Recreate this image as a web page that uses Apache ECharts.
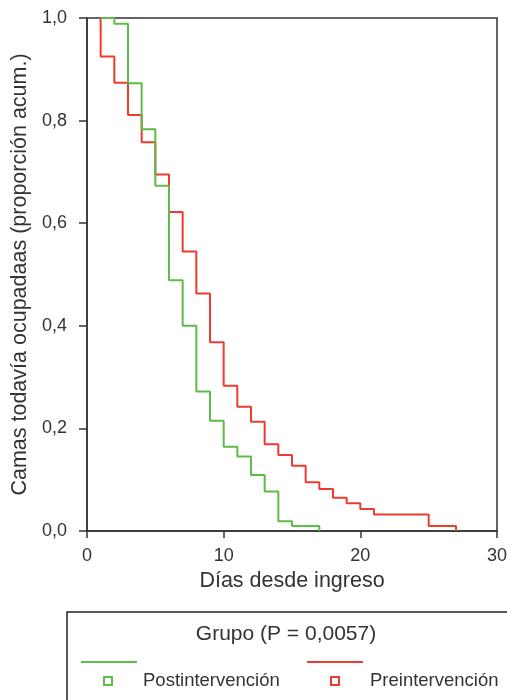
<!DOCTYPE html>
<html>
<head>
<meta charset="utf-8">
<script src="https://cdn.jsdelivr.net/npm/echarts@6/dist/echarts.min.js"></script>
<style>
  html, body { margin: 0; padding: 0; background: #fff; }
  #main { width: 507px; height: 700px; }
</style>
</head>
<body>
<div id="main"></div>
<script>
// dias y proporcion acumulada (curvas escalonadas)
var postDays = [1, 2, 3, 4, 5, 6, 7, 8, 9, 10, 11, 12, 13, 14, 15, 17];
var postVals = [1.0, 0.989, 0.873, 0.783, 0.673, 0.489, 0.400, 0.272, 0.215, 0.164, 0.145, 0.109, 0.077, 0.019, 0.0097, 0];
var preDays = [1, 1, 2, 3, 4, 5, 6, 7, 8, 9, 10, 11, 12, 13, 14, 15, 16, 17, 18, 19, 20, 21, 25, 27];
var preVals = [1.0, 0.925, 0.874, 0.811, 0.758, 0.695, 0.622, 0.545, 0.463, 0.368, 0.283, 0.242, 0.213, 0.169, 0.148, 0.127, 0.095, 0.082, 0.065, 0.054, 0.043, 0.032, 0.0097, 0];
var xTicks = [0, 10, 20, 30];
var yTicks = [0, 0.2, 0.4, 0.6, 0.8, 1.0];
var groups = ['Postintervención', 'Preintervención'];

var green = '#5fbb47', red = '#ee3b30';
var font = 'Liberation Sans, Arial, sans-serif';

function pairs(xs, ys) {
    var out = [];
    for (var i = 0; i < xs.length; i++) out.push([xs[i], ys[i]]);
    return out;
}

var chart = echarts.init(document.getElementById('main'));
var option = {
    animation: false,
    grid: {
        left: 87, right: 10, top: 18, bottom: 169, outerBoundsMode: 'none', containLabel: false,
        show: true, borderColor: '#333', borderWidth: 1.5, backgroundColor: 'transparent'
    },
    xAxis: {
        type: 'value', min: xTicks[0], max: xTicks[xTicks.length - 1], interval: 10,
        name: 'Días desde ingreso', nameLocation: 'middle', nameGap: 37,
        nameTextStyle: { fontSize: 21.5, color: '#333', fontFamily: font },
        axisLine: { lineStyle: { color: '#333', width: 1.5 } },
        axisTick: { show: true, length: 7, inside: false, lineStyle: { color: '#333', width: 1.5 } },
        axisLabel: { fontSize: 18, color: '#333', fontFamily: font, margin: 16 },
        splitLine: { show: false }
    },
    yAxis: {
        type: 'value', min: yTicks[0], max: yTicks[yTicks.length - 1], interval: 0.2,
        name: 'Camas todavía ocupadaas (proporción acum.)', nameLocation: 'middle', nameGap: 55,
        nameTextStyle: { fontSize: 21.5, color: '#333', fontFamily: font },
        axisLine: { show: true, lineStyle: { color: '#333', width: 1.5 } },
        axisTick: { show: true, length: 8, lineStyle: { color: '#333', width: 1.5 } },
        axisLabel: {
            fontSize: 18, color: '#333', fontFamily: font, margin: 20,
            formatter: function (v) { return v.toFixed(1).replace('.', ','); }
        },
        splitLine: { show: false }
    },
    series: [
        {
            name: groups[0], type: 'line', step: 'end', showSymbol: false,
            data: pairs(postDays, postVals),
            lineStyle: { color: green, width: 2 }, z: 3
        },
        {
            name: groups[1], type: 'line', step: 'end', showSymbol: false,
            data: pairs(preDays, preVals),
            lineStyle: { color: red, width: 2 }, z: 2
        }
    ],
    graphic: [
        { type: 'rect', shape: { x: 67, y: 612, width: 450, height: 100 }, style: { fill: 'none', stroke: '#222', lineWidth: 1.5 } },
        { type: 'text', x: 286, y: 634, style: { text: 'Grupo (P = 0,0057)', font: '21px ' + font, fill: '#333', align: 'center', verticalAlign: 'middle' } },
        { type: 'line', shape: { x1: 81, y1: 662, x2: 137, y2: 662 }, style: { stroke: green, lineWidth: 2 } },
        { type: 'line', shape: { x1: 307, y1: 662, x2: 363, y2: 662 }, style: { stroke: red, lineWidth: 2 } },
        { type: 'rect', shape: { x: 104, y: 677, width: 8, height: 8 }, style: { fill: 'none', stroke: green, lineWidth: 2 } },
        { type: 'rect', shape: { x: 331, y: 677, width: 8, height: 8 }, style: { fill: 'none', stroke: red, lineWidth: 2 } },
        { type: 'text', x: 143, y: 681, style: { text: groups[0], font: '18.5px ' + font, fill: '#333', align: 'left', verticalAlign: 'middle' } },
        { type: 'text', x: 370, y: 681, style: { text: groups[1], font: '18.5px ' + font, fill: '#333', align: 'left', verticalAlign: 'middle' } }
    ]
};
chart.setOption(option);
</script>
</body>
</html>
